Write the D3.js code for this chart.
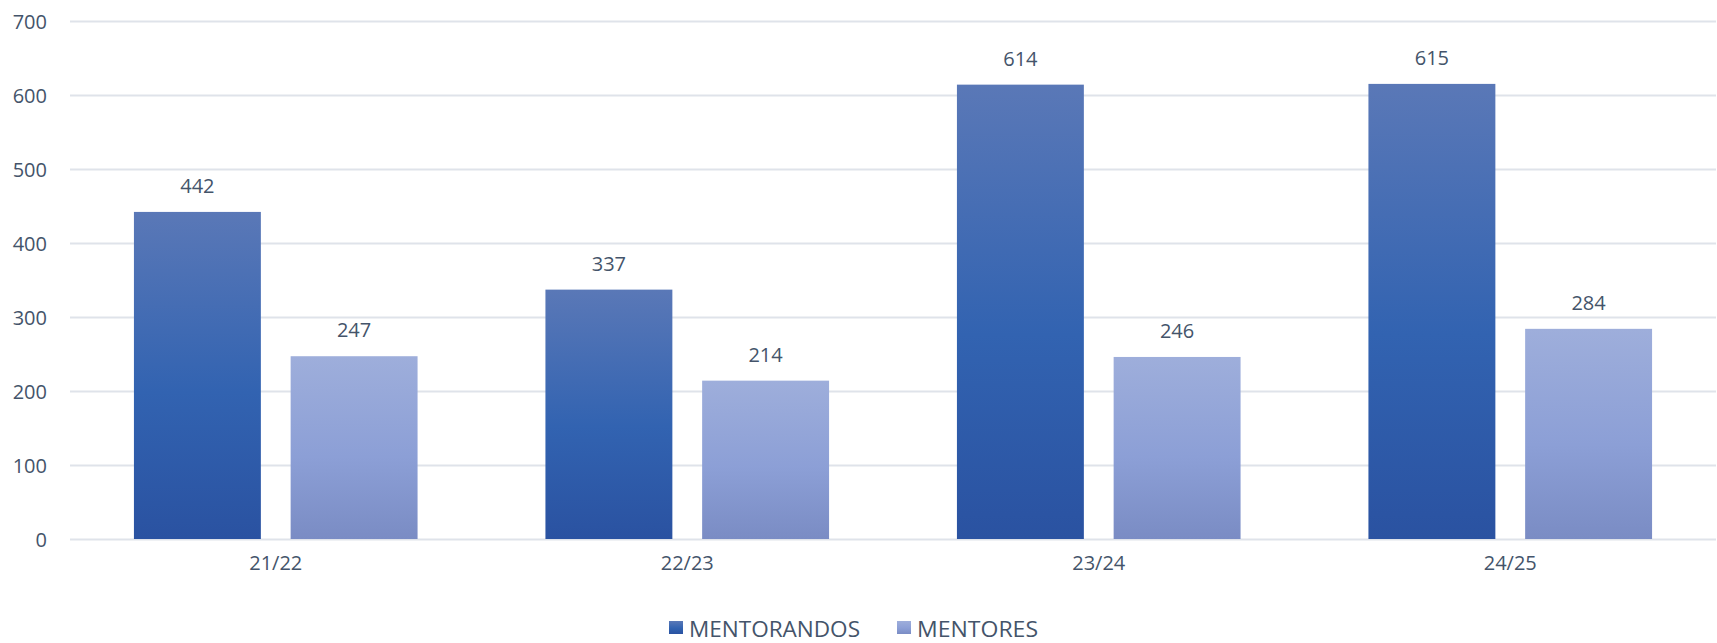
<!DOCTYPE html>
<html>
<head>
<meta charset="utf-8">
<script src="https://cdn.jsdelivr.net/npm/d3@7"></script>
<style>
  html, body { margin: 0; padding: 0; background: #ffffff; }
  svg { display: block; }
  text { font-family: "Open Sans", "Noto Sans", sans-serif; fill: #44546a; }
</style>
</head>
<body>
<svg id="chart" width="1717" height="643"></svg>
<script>
const categories = ["21/22", "22/23", "23/24", "24/25"];
const seriesNames = ["MENTORANDOS", "MENTORES"];
const mentorandos = [442, 337, 614, 615];
const mentores = [247, 214, 246, 284];
const yTicks = [0, 100, 200, 300, 400, 500, 600, 700];

const seriesValues = [mentorandos, mentores];
const gradStops = [
  [["0%", "#5a78b7"], ["55%", "#3263b1"], ["100%", "#2a52a1"]],
  [["0%", "#9eaedb"], ["55%", "#8c9fd6"], ["100%", "#7a8cc4"]]
];

const svg = d3.select("#chart");
const plotLeft = 70, plotRight = 1716, plotTop = 21, plotBottom = 539;

const defs = svg.append("defs");
gradStops.forEach((stops, i) => {
  const g = defs.append("linearGradient").attr("id", "grad" + i)
    .attr("x1", 0).attr("y1", 0).attr("x2", 0).attr("y2", 1);
  stops.forEach(s => g.append("stop").attr("offset", s[0]).attr("stop-color", s[1]));
});

const x0 = d3.scaleBand().domain(categories).range([plotLeft, plotRight]).padding(0);
const x1 = d3.scaleBand().domain(seriesNames).range([0, x0.bandwidth()])
  .paddingInner(0.19).paddingOuter(0.408);
const y = d3.scaleLinear().domain([0, 700]).range([plotBottom, plotTop]);

// gridlines
const grid = svg.append("g").attr("class", "grid")
  .attr("transform", `translate(${plotLeft},0)`)
  .call(d3.axisLeft(y).tickValues(yTicks).tickSize(-(plotRight - plotLeft)).tickFormat(""));
grid.select(".domain").remove();
grid.selectAll("line").attr("stroke", "#dfe3ea").attr("stroke-width", 2);

// y axis labels
const yAxis = svg.append("g")
  .attr("transform", `translate(${plotLeft},0)`)
  .call(d3.axisLeft(y).tickValues(yTicks).tickSize(0).tickPadding(23));
yAxis.select(".domain").remove();
yAxis.selectAll("text")
  .style("font-family", '"Open Sans", "Noto Sans", sans-serif')
  .style("font-size", "20px").attr("fill", "#44546a").attr("dy", "0.36em");

// x axis labels
const xAxis = svg.append("g")
  .attr("transform", `translate(0,${plotBottom})`)
  .call(d3.axisBottom(x0).tickSize(0).tickPadding(17));
xAxis.select(".domain").remove();
xAxis.selectAll("text")
  .style("font-family", '"Open Sans", "Noto Sans", sans-serif')
  .style("font-size", "20px").attr("fill", "#44546a").attr("dy", "0.71em");

// bars
const groups = svg.append("g").selectAll("g").data(categories).join("g")
  .attr("transform", d => `translate(${x0(d)},0)`);

groups.each(function(cat, ci) {
  const g = d3.select(this);
  seriesNames.forEach((s, si) => {
    const v = seriesValues[si][ci];
    g.append("rect")
      .attr("x", x1(s)).attr("width", x1.bandwidth())
      .attr("y", y(v)).attr("height", y(0) - y(v))
      .attr("fill", `url(#grad${si})`);
    g.append("text")
      .attr("x", x1(s) + x1.bandwidth() / 2)
      .attr("y", y(v) - 19)
      .attr("text-anchor", "middle")
      .style("font-size", "20px")
      .text(v);
  });
});

// legend
const legendItems = [
  { name: seriesNames[0], sx: 669, tx: 689, len: 171 },
  { name: seriesNames[1], sx: 897, tx: 917, len: 121 }
];
const legend = svg.append("g");
legendItems.forEach((it, i) => {
  legend.append("rect").attr("x", it.sx).attr("y", 621).attr("width", 14).attr("height", 13)
    .attr("fill", `url(#grad${i})`);
  legend.append("text").attr("x", it.tx).attr("y", 636.5)
    .style("font-size", "22px")
    .attr("textLength", it.len).attr("lengthAdjust", "spacingAndGlyphs")
    .text(it.name);
});
</script>
</body>
</html>
